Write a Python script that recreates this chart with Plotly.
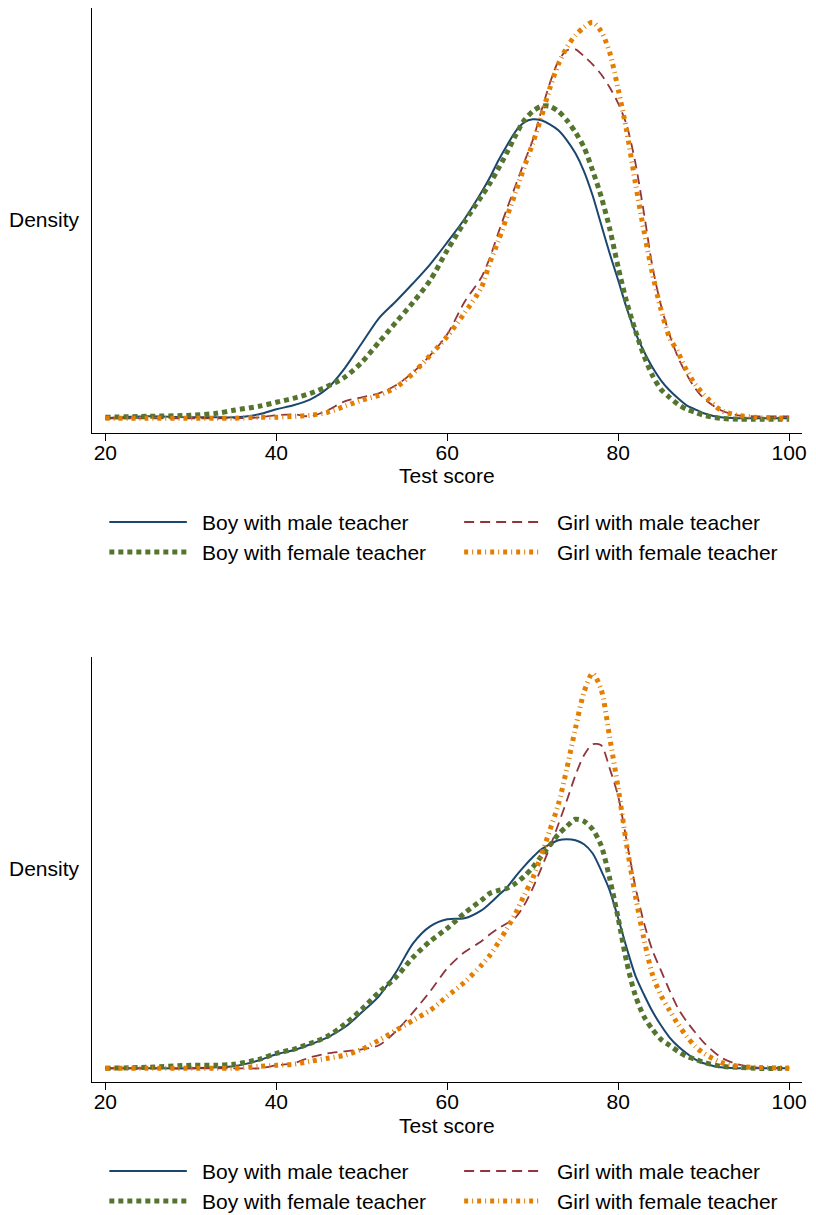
import plotly.graph_objects as go

# ---------------- data (kernel density estimates) ----------------
scores = [20, 25, 30, 33, 35, 38, 40, 42, 44, 46, 48, 50, 52, 54, 56, 58, 60, 62, 64, 65,
          66, 67, 68, 69, 70, 71, 72, 73, 74, 75, 76, 77, 78, 79, 80, 81, 82, 83, 84, 85,
          86, 87, 88, 89, 90, 92, 94, 96, 100]

series_names = ["Boy with male teacher", "Girl with male teacher",
                "Boy with female teacher", "Girl with female teacher"]

x_ticks = [20, 40, 60, 80, 100]
x_title = "Test score"
y_title = "Density"

# upper panel
top_boy_male = [0.0001, 0.0003, 0.0002, 0.0002, 0.0002, 0.0005, 0.0010, 0.0014, 0.0020, 0.0031,
                0.0051, 0.0076, 0.0101, 0.0118, 0.0136, 0.0155, 0.0177, 0.0200, 0.0227, 0.0242,
                0.0259, 0.0274, 0.0288, 0.0297, 0.0300, 0.0299, 0.0295, 0.0289, 0.0279, 0.0266,
                0.0248, 0.0224, 0.0195, 0.0166, 0.0139, 0.0111, 0.0087, 0.0068, 0.0052, 0.0039,
                0.0029, 0.0021, 0.0014, 0.0010, 0.0006, 0.0002, 0.0001, 0.0001, 0.0001]
top_girl_male = [0.0001, 0.0001, 0.0001, 0.0001, 0.0001, 0.0002, 0.0004, 0.0005, 0.0003, 0.0009,
                 0.0018, 0.0022, 0.0026, 0.0034, 0.0047, 0.0064, 0.0085, 0.0117, 0.0142, 0.0162,
                 0.0187, 0.0211, 0.0234, 0.0257, 0.0279, 0.0308, 0.0336, 0.0358, 0.0369, 0.0370,
                 0.0363, 0.0355, 0.0345, 0.0332, 0.0316, 0.0294, 0.0257, 0.0207, 0.0153, 0.0114,
                 0.0085, 0.0062, 0.0045, 0.0031, 0.0021, 0.0009, 0.0004, 0.0003, 0.0003]
top_boy_female = [0.0002, 0.0003, 0.0004, 0.0006, 0.0009, 0.0013, 0.0017, 0.0021, 0.0026, 0.0033,
                  0.0042, 0.0057, 0.0077, 0.0097, 0.0117, 0.0139, 0.0169, 0.0197, 0.0223, 0.0236,
                  0.0251, 0.0267, 0.0284, 0.0299, 0.0308, 0.0313, 0.0313, 0.0308, 0.0299, 0.0287,
                  0.0272, 0.0249, 0.0223, 0.0191, 0.0152, 0.0117, 0.0089, 0.0064, 0.0044, 0.0030,
                  0.0022, 0.0015, 0.0010, 0.0007, 0.0004, 0.0001, 0.0000, 0.0000, 0.0000]
top_girl_female = [0.0001, 0.0001, 0.0001, 0.0001, 0.0001, 0.0002, 0.0002, 0.0003, 0.0004, 0.0007,
                   0.0013, 0.0019, 0.0024, 0.0032, 0.0046, 0.0064, 0.0083, 0.0106, 0.0132, 0.0157,
                   0.0179, 0.0203, 0.0227, 0.0252, 0.0276, 0.0302, 0.0331, 0.0355, 0.0372, 0.0384,
                   0.0392, 0.0397, 0.0388, 0.0367, 0.0330, 0.0288, 0.0237, 0.0189, 0.0146, 0.0110,
                   0.0082, 0.0067, 0.0049, 0.0035, 0.0025, 0.0009, 0.0004, 0.0002, 0.0001]

# lower panel
bot_boy_male = [0.0000, 0.0000, 0.0000, 0.0001, 0.0002, 0.0008, 0.0014, 0.0018, 0.0024, 0.0031,
                0.0041, 0.0056, 0.0072, 0.0096, 0.0125, 0.0142, 0.0149, 0.0150, 0.0158, 0.0165,
                0.0173, 0.0181, 0.0192, 0.0202, 0.0211, 0.0219, 0.0224, 0.0228, 0.0229, 0.0228,
                0.0224, 0.0215, 0.0198, 0.0178, 0.0150, 0.0120, 0.0093, 0.0074, 0.0057, 0.0043,
                0.0031, 0.0022, 0.0015, 0.0009, 0.0005, 0.0001, 0.0000, 0.0000, 0.0000]
bot_girl_male = [0.0000, 0.0000, 0.0000, 0.0000, 0.0000, 0.0000, 0.0003, 0.0005, 0.0011, 0.0015,
                 0.0017, 0.0019, 0.0023, 0.0037, 0.0056, 0.0077, 0.0100, 0.0116, 0.0127, 0.0134,
                 0.0140, 0.0145, 0.0151, 0.0163, 0.0180, 0.0200, 0.0221, 0.0244, 0.0268, 0.0293,
                 0.0313, 0.0324, 0.0323, 0.0300, 0.0272, 0.0227, 0.0182, 0.0146, 0.0118, 0.0098,
                 0.0078, 0.0060, 0.0047, 0.0036, 0.0026, 0.0011, 0.0004, 0.0001, 0.0000]
bot_boy_female = [0.0000, 0.0001, 0.0003, 0.0003, 0.0004, 0.0009, 0.0015, 0.0019, 0.0025, 0.0032,
                  0.0044, 0.0059, 0.0076, 0.0091, 0.0111, 0.0127, 0.0140, 0.0155, 0.0168, 0.0175,
                  0.0178, 0.0180, 0.0185, 0.0192, 0.0201, 0.0212, 0.0223, 0.0234, 0.0242, 0.0249,
                  0.0247, 0.0239, 0.0223, 0.0190, 0.0150, 0.0106, 0.0073, 0.0052, 0.0039, 0.0029,
                  0.0023, 0.0017, 0.0012, 0.0009, 0.0006, 0.0002, 0.0001, 0.0000, 0.0000]
bot_girl_female = [0.0000, 0.0000, 0.0000, 0.0000, 0.0000, 0.0002, 0.0003, 0.0004, 0.0007, 0.0010,
                   0.0013, 0.0019, 0.0028, 0.0038, 0.0048, 0.0058, 0.0072, 0.0086, 0.0103, 0.0113,
                   0.0126, 0.0140, 0.0155, 0.0173, 0.0190, 0.0213, 0.0238, 0.0264, 0.0300, 0.0340,
                   0.0376, 0.0395, 0.0379, 0.0331, 0.0280, 0.0223, 0.0173, 0.0130, 0.0094, 0.0073,
                   0.0058, 0.0044, 0.0032, 0.0022, 0.0015, 0.0006, 0.0002, 0.0001, 0.0000]

top_panel = [top_boy_male, top_girl_male, top_boy_female, top_girl_female]
bottom_panel = [bot_boy_male, bot_girl_male, bot_boy_female, bot_girl_female]

# ---------------- styling ----------------
W, H = 816, 1215
FONT = "Liberation Sans, Arial, Helvetica, sans-serif"
FS = 21

styles = [
    dict(color="#1a476f", width=2.0, dash="solid"),
    dict(color="#90353b", width=1.8, dash="10px,6px"),
    dict(color="#55752f", width=5.0, dash="5px,4px"),
    dict(color="#e37e00", width=5.0, dash="4px,4px,1px,4px"),
]

def py(p):  # pixel row -> paper y
    return 1 - p / H

def pxx(p):  # pixel column -> paper x
    return p / W

panels = [
    dict(data=top_panel, xa="x", ya="y", top=8, bottom=433, legend_rows=(522, 552)),
    dict(data=bottom_panel, xa="x2", ya="y2", top=657, bottom=1082, legend_rows=(1171, 1201)),
]

fig = go.Figure()
shapes = []
annotations = []

x_left_px, x_right_px = 93, 807
px_per_unit = 8.6
x_range = [20 + (x_left_px - 106) / px_per_unit, 20 + (x_right_px - 106) / px_per_unit]
y_range = [-0.00137, 0.04113]

for k, pnl in enumerate(panels):
    for name, vals, st in zip(series_names, pnl["data"], styles):
        fig.add_trace(go.Scatter(
            x=scores, y=vals, mode="lines", name=name, showlegend=False,
            xaxis=pnl["xa"], yaxis=pnl["ya"],
            line=dict(color=st["color"], width=st["width"], dash=st["dash"],
                      shape="spline", smoothing=0.8),
            hoverinfo="skip"))

    axis_suffix = "" if k == 0 else "2"
    dom_y = [py(pnl["bottom"]), py(pnl["top"])]
    fig.update_layout(**{
        "xaxis" + axis_suffix: dict(
            domain=[pxx(x_left_px), pxx(x_right_px)], range=x_range,
            anchor="y" + axis_suffix, showline=True, linecolor="black", linewidth=1.2,
            ticks="outside", ticklen=7, tickwidth=1.2, tickcolor="black",
            tickvals=x_ticks, ticktext=[str(t) for t in x_ticks],
            tickfont=dict(family=FONT, size=FS, color="black"),
            ticklabelstandoff=-6,
            showgrid=False, zeroline=False, fixedrange=True),
        "yaxis" + axis_suffix: dict(
            domain=dom_y, range=y_range, anchor="x" + axis_suffix,
            showline=True, linecolor="black", linewidth=1.2,
            showticklabels=False, ticks="", showgrid=False, zeroline=False, fixedrange=True),
    })

    # axis titles
    mid = (pnl["top"] + pnl["bottom"]) / 2
    annotations.append(dict(text=y_title, xref="paper", yref="paper", x=pxx(83), y=py(mid - 1),
                            xanchor="right", yanchor="middle", showarrow=False,
                            font=dict(family=FONT, size=FS, color="black")))
    annotations.append(dict(text=x_title, xref="paper", yref="paper", x=pxx(450),
                            y=py(pnl["bottom"] + 43), xanchor="center", yanchor="middle",
                            showarrow=False, font=dict(family=FONT, size=FS, color="black")))

    # legend (two columns, row-wise order)
    r1, r2 = pnl["legend_rows"]
    slots = [(110, r1), (467, r1), (110, r2), (467, r2)]
    for name, st, (lx, ly) in zip(series_names, styles, slots):
        shapes.append(dict(type="line", xref="paper", yref="paper",
                           x0=pxx(lx), x1=pxx(lx + 78), y0=py(ly), y1=py(ly),
                           line=dict(color=st["color"], width=st["width"], dash=st["dash"])))
        annotations.append(dict(text=name, xref="paper", yref="paper", x=pxx(lx + 91), y=py(ly),
                                xanchor="left", yanchor="middle", showarrow=False,
                                font=dict(family=FONT, size=FS, color="black")))

fig.update_layout(
    width=W, height=H, margin=dict(l=0, r=0, t=0, b=0),
    paper_bgcolor="white", plot_bgcolor="white",
    showlegend=False, shapes=shapes, annotations=annotations,
    font=dict(family=FONT, size=FS, color="black"),
)

fig.write_html("out.html", config={"displayModeBar": False},
               post_script="document.body.style.margin='0';")
